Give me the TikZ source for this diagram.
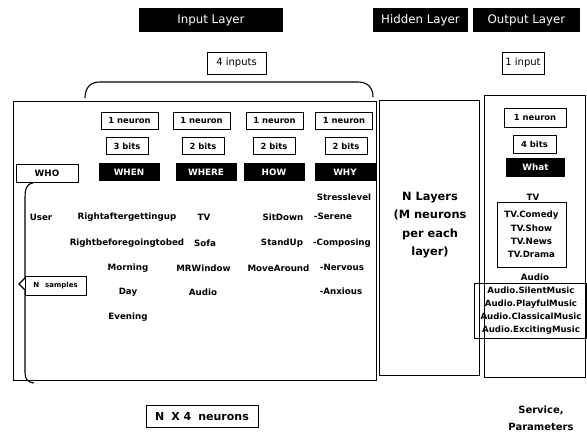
\documentclass[tikz,border=0pt]{standalone}
\usepackage{fontspec}
\setmainfont{DejaVu Sans}
\begin{document}
\begin{tikzpicture}[x=1pt,y=-1pt,
  hdr/.style={fill=black,text=white,inner sep=0pt,minimum height=24pt,font=\fontsize{11.8}{13}\selectfont},
  lbl/.style={draw,line width=0.9pt,inner sep=0pt,minimum height=22pt,font=\fontsize{10}{12}\selectfont},
  small/.style={draw,line width=0.9pt,inner sep=0pt,minimum height=17pt,font=\fontsize{8.4}{10}\bfseries},
  blk/.style={fill=black,text=white,inner sep=0pt,minimum height=18pt,minimum width=61pt,font=\fontsize{8.8}{10}\bfseries},
  body/.style={inner sep=0pt,font=\fontsize{8.7}{10}\bfseries},
  frame/.style={draw,line width=1pt,inner sep=0pt},
  brace/.style={draw,line width=1.1pt}]
\useasboundingbox (0,0) rectangle (587,435);
\fill[white] (0,0) rectangle (587,435);
% headers
\node[hdr,minimum width=144pt] (hin) at (211,20) {Input Layer};
\node[hdr,minimum width=95pt] (hhid) at (420.5,20) {Hidden Layer};
\node[hdr,minimum width=107pt] (hout) at (526.5,20) {Output Layer};
\node[lbl,minimum width=59pt] (fourin) at (236.5,63) {4 inputs};
\node[lbl,minimum width=42pt] (onein) at (523,63) {1 input};
% big boxes
\node[frame,minimum width=363pt,minimum height=279pt] (inbox) at (194.5,241.5) {};
\node[frame,minimum width=100pt,minimum height=275pt] (hidbox) at (429,238.5) {};
\node[frame,minimum width=101pt,minimum height=282pt] (outbox) at (534.5,237) {};
% top brace
\draw[brace] (85,98) .. controls (85,88) and (90,82) .. (100,82) -- (358,82) .. controls (368,82) and (373,88) .. (373,97);
% input columns
\node[small,minimum width=57pt] (n1) at (129.5,121) {1 neuron};
\node[small,minimum width=57pt] (n2) at (201.5,121) {1 neuron};
\node[small,minimum width=57pt] (n3) at (274.5,121) {1 neuron};
\node[small,minimum width=57pt] (n4) at (344,121) {1 neuron};
\node[small,minimum width=42pt] (b1) at (127,146) {3 bits};
\node[small,minimum width=42pt] (b2) at (203,146) {2 bits};
\node[small,minimum width=42pt] (b3) at (274,146) {2 bits};
\node[small,minimum width=42pt] (b4) at (346,146) {2 bits};
\node[draw,line width=0.9pt,inner sep=0pt,minimum height=18pt,minimum width=62pt,font=\fontsize{8.8}{10}\bfseries] (who) at (47,173) {WHO};
\node[blk] (when) at (129,172) {WHEN};
\node[blk] (where) at (206,172) {WHERE};
\node[blk] (how) at (274,172) {HOW};
\node[blk] (why) at (345,172) {WHY};
% column texts
\node[body] (user) at (41,217) {User};
\node[body] (w1) at (127,217) {Rightaftergettingup};
\node[body] (w2) at (127,243) {Rightbeforegoingtobed};
\node[body] (w3) at (128,268) {Morning};
\node[body] (w4) at (128,292) {Day};
\node[body] (w5) at (128,317) {Evening};
\node[body] (p1) at (204,217) {TV};
\node[body] (p2) at (205,243) {Sofa};
\node[body] (p3) at (203.5,268) {MRWindow};
\node[body] (p4) at (203,292) {Audio};
\node[body] (h1) at (283,217) {SitDown};
\node[body] (h2) at (282,243) {StandUp};
\node[body] (h3) at (278.5,268) {MoveAround};
\node[body] (y0) at (344,197) {Stresslevel};
\node[body] (y1) at (333,216) {-Serene};
\node[body] (y2) at (342,243) {-Composing};
\node[body] (y3) at (342,267) {-Nervous};
\node[body] (y4) at (341,291) {-Anxious};
% left brace and N samples
\draw[brace] (33,183) .. controls (26,184) and (25,190) .. (25,197) -- (25,278) -- (19,284) -- (25,290) -- (25,372) .. controls (25,379) and (27,382) .. (34,383);
\node[draw,line width=0.8pt,inner sep=0pt,minimum width=61pt,minimum height=19pt,font=\fontsize{7}{8}\bfseries] (nsamp) at (55.5,285.5) {N\hspace{6pt}samples};
% hidden
\node[inner sep=0pt,align=center,font=\fontsize{11.4}{18.5}\bfseries] (hidtxt) at (430,225) {N Layers\\(M neurons\\per each\\layer)};
% output column
\node[small,minimum width=62pt,minimum height=19pt] (on) at (535,117.5) {1 neuron};
\node[small,minimum width=43pt,minimum height=18pt] (ob) at (534.5,144) {4 bits};
\node[blk,minimum width=59pt,minimum height=19pt] (what) at (535.5,167.5) {What};
\node[body] (tvl) at (533,197) {TV};
\node[draw,line width=0.9pt,inner sep=0pt,minimum width=69pt,minimum height=65pt,align=center,font=\fontsize{8.7}{13.3}\bfseries] (tvbox) at (531.5,234.5) {TV.Comedy\\TV.Show\\TV.News\\TV.Drama};
\node[body] (aul) at (535,277) {Audio};
\node[draw,line width=0.9pt,inner sep=0pt,minimum width=112pt,minimum height=55pt] (aubox) at (530,310.5) {};
\node[inner sep=0pt,align=center,font=\fontsize{8.6}{13}\bfseries] (autxt) at (531,310.5) {Audio.SilentMusic\\Audio.PlayfulMusic\\Audio.ClassicalMusic\\Audio.ExcitingMusic};
% bottom labels
\node[draw,line width=0.9pt,inner sep=0pt,minimum width=112pt,minimum height=22pt,font=\fontsize{11}{12}\bfseries] (nx4) at (202,416.5) {N\hspace{7pt}X 4\hspace{7pt}neurons};
\node[inner sep=0pt,align=center,font=\fontsize{10}{17}\bfseries] (serv) at (541,418) {Service,\\Parameters};
\end{tikzpicture}
\end{document}
